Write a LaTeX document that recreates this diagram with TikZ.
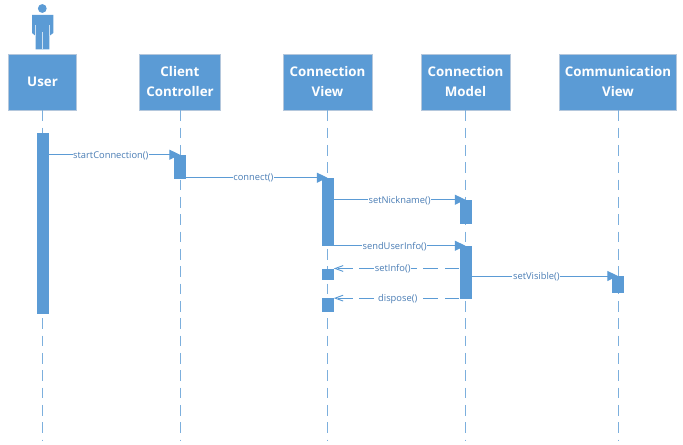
\documentclass[tikz,border=0pt]{standalone}
\usepackage{fontspec}
\setmainfont{Open Sans}
\usepackage{tikz}
\usetikzlibrary{arrows.meta,positioning}
\definecolor{seqblue}{HTML}{5B9BD5}
\definecolor{seqedge}{HTML}{B4C7DC}
\definecolor{seqtext}{HTML}{4A7DB5}
\begin{document}
\begin{tikzpicture}[
    x=0.75pt, y=-0.75pt,
    actor/.style={draw=seqedge, fill=seqblue, text=white, align=center, font=\bfseries\fontsize{10}{15}\selectfont,
                  minimum height=42pt, inner sep=0pt},
    life/.style={draw=seqblue!80, line width=0.75pt, dash pattern=on 8pt off 5pt},
    bar/.style={fill=seqblue, inner sep=0pt, minimum width=9pt},
    msg/.style={draw=seqblue, line width=0.7pt, -{Triangle[length=8pt,width=7.5pt]}},
    back/.style={draw=seqblue, line width=0.7pt, dash pattern=on 11pt off 5pt, -{Straight Barb[length=6pt,width=10pt,angle'=40]}},
    lbl/.style={fill=white, text=seqtext, inner sep=0.5pt, yshift=-0.5pt, font=\fontsize{7}{8}\selectfont}
]
    \useasboundingbox (0,0) rectangle (683,445);
    % heads
    \node[actor, minimum width=51pt] (user) at (42.5,82) {User};
    \node[actor, minimum width=61pt] (client) at (180,82) {Client\\Controller};
    \node[actor, minimum width=66.5pt] (view) at (327.5,82) {Connection\\View};
    \node[actor, minimum width=66.5pt] (model) at (465.5,82) {Connection\\Model};
    \node[actor, minimum width=88pt] (comm) at (618,82) {Communication\\View};
    % actor figure
    \fill[seqblue] (42.3,8.5) circle (4.4);
    \fill[seqblue] (32,15) -- (32,33) -- (35.7,36) -- (35.7,49.3) -- (49.3,49.3) -- (49.3,36) -- (53.3,33) -- (53.3,15) -- cycle;
    \draw[white, opacity=.7] (42.3,32) -- (42.3,49.3) (35.7,25) -- (35.7,36) (49.3,25) -- (49.3,36);
    % lifelines
    \coordinate (userend) at (42.5,440);
    \coordinate (clientend) at (180,440);
    \coordinate (viewend) at (327.5,440);
    \coordinate (modelend) at (465.5,440);
    \coordinate (commend) at (618,440);
    \draw[life] (user) -- (userend);
    \draw[life] (client) -- (clientend);
    \draw[life] (view) -- (viewend);
    \draw[life] (model) -- (modelend);
    \draw[life] (comm) -- (commend);
    % activations
    \node[bar, minimum height=136pt] (a1) at (42.5,223.5) {};
    \node[bar, minimum height=18pt] (a2) at (180,167) {};
    \node[bar, minimum height=51pt] (a3) at (327.5,212) {};
    \node[bar, minimum height=18pt] (a4) at (465.5,212) {};
    \node[bar, minimum height=40pt] (a5) at (465.5,272.7) {};
    \node[bar, minimum height=8.6pt] (a6) at (327.5,274.5) {};
    \node[bar, minimum height=10.5pt] (a7) at (327.5,305.4) {};
    \node[bar, minimum height=12.5pt] (a8) at (618,284.6) {};
    % messages
    \draw[msg] (a1.east |- a2.north) -- node[lbl, pos=.473]{startConnection()} (a2.north);
    \draw[msg] (a2.east |- a3.north) -- node[lbl, pos=.475]{connect()} (a3.north);
    \draw[msg] (a3.east |- a4.north) -- node[lbl, pos=.5]{setNickname()} (a4.north);
    \draw[msg] (a3.east |- a5.north) -- node[lbl, pos=.462]{sendUserInfo()} (a5.north);
    \draw[back] (a5.west |- a6.north) -- node[lbl, pos=.53]{setInfo()} (a6.north east);
    \draw[back] (a5.west |- a7.north) -- node[lbl, pos=.49]{dispose()} (a7.north east);
    \draw[msg] (a5.east |- a8.north) -- node[lbl, pos=.442]{setVisible()} (a8.north);
\end{tikzpicture}
\end{document}
